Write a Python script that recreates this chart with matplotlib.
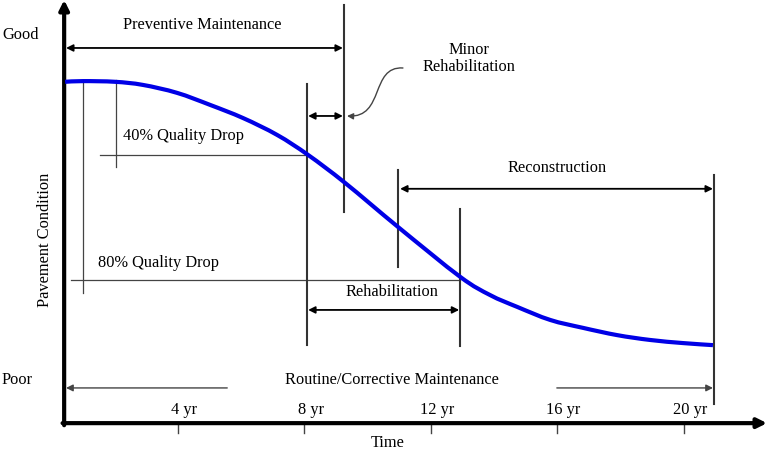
import numpy as np
import matplotlib.pyplot as plt
from matplotlib.path import Path
from matplotlib.patches import FancyArrowPatch, PathPatch

plt.rcParams['font.family'] = ['Liberation Serif', 'DejaVu Serif']

# deterioration curve: years vs condition (Good = 100, Poor = 0)
curve_yr = [0.43, 1.00, 2.01, 2.89, 3.97, 5.02, 6.06, 7.14, 8.12, 9.29,
            10.97, 12.93, 13.88, 14.73, 15.78, 16.82, 17.90, 18.94, 19.98, 20.93]
curve_cond = [86.4, 86.6, 86.4, 85.5, 83.2, 79.7, 75.9, 71.0, 65.2, 57.1,
              44.3, 29.9, 24.6, 21.2, 17.4, 15.1, 13.0, 11.6, 10.7, 10.1]

tick_years = [4, 8, 12, 16, 20]
tick_labels = ['4 yr', '8 yr', '12 yr', '16 yr', '20 yr']

# vertical guide lines: (year, cond top, cond bottom)
thin_vlines = [(1.00, 87.0, 25.2), (2.04, 87.0, 61.7)]
thick_vlines = [(8.09, 85.8, 10.1), (9.26, 108.7, 48.7), (10.97, 60.9, 32.8),
                (12.93, 49.6, 9.9), (20.96, 59.4, -7.0)]
# horizontal quality-drop lines: (year start, year end, cond)
drop_lines = [(1.53, 8.09, 65.2), (0.62, 12.93, 29.0)]

# double arrows: (year start, year end, cond, label, label year, label cond)
spans = [
    (0.46, 9.22, 96.2, 'Preventive Maintenance', 4.76, 102.9),
    (8.12, 9.22, 76.5, '', 0, 0),
    (11.03, 20.93, 55.4, 'Reconstruction', 16.0, 61.4),
    (8.12, 12.90, 20.3, 'Rehabilitation', 10.77, 25.5),
]

axis_yr, axis_cond = 0.40, -12.5


def smooth_path(xs, ys):
    # Catmull-Rom through the points, drawn as cubic Bezier segments
    pts = np.column_stack([xs, ys])
    n = len(pts)
    verts = [pts[0]]
    codes = [Path.MOVETO]
    for i in range(n - 1):
        p0 = pts[max(i - 1, 0)]
        p1 = pts[i]
        p2 = pts[i + 1]
        p3 = pts[min(i + 2, n - 1)]
        verts += [p1 + (p2 - p0) / 6, p2 - (p3 - p1) / 6, p2]
        codes += [Path.CURVE4] * 3
    return Path(verts, codes)


fig = plt.figure(figsize=(7.67, 4.58), dpi=100)
ax = fig.add_axes([0, 0, 1, 1])
ax.set_xlim(-1.63, 22.64)
ax.set_ylim(-22.6, 110.1)
ax.axis('off')

fs = 11.8

# guide lines
for x, y0, y1 in thin_vlines:
    ax.plot([x, x], [y0, y1], color='#444444', lw=0.9)
for x0, x1, y in drop_lines:
    ax.plot([x0, x1], [y, y], color='#444444', lw=0.9)
for x, y0, y1 in thick_vlines:
    ax.plot([x, x], [y0, y1], color='#333333', lw=1.5)

# curve
ax.add_patch(PathPatch(smooth_path(curve_yr, curve_cond), fill=False,
                       edgecolor='#0000e6', lw=3, capstyle='butt', zorder=5))

# span arrows
for x0, x1, y, label, lx, ly in spans:
    ax.annotate('', xy=(x1, y), xytext=(x0, y),
                arrowprops=dict(arrowstyle='<|-|>', color='black', lw=1.3,
                                shrinkA=0, shrinkB=0, mutation_scale=10))
    if label:
        ax.text(lx, ly, label, ha='center', va='center', fontsize=fs)

# routine / corrective maintenance
ax.text(10.77, 0.0, 'Routine/Corrective Maintenance', ha='center', va='center', fontsize=fs)
ax.annotate('', xy=(0.46, -2.3), xytext=(5.56, -2.3),
            arrowprops=dict(arrowstyle='-|>', color='#444444', lw=1.0,
                            shrinkA=0, shrinkB=0, mutation_scale=10))
ax.annotate('', xy=(20.93, -2.3), xytext=(15.99, -2.3),
            arrowprops=dict(arrowstyle='-|>', color='#444444', lw=1.0,
                            shrinkA=0, shrinkB=0, mutation_scale=10))

# minor rehabilitation callout
ax.text(13.21, 93.2, 'Minor\nRehabilitation', ha='center', va='center',
        fontsize=fs, linespacing=1.05)
squiggle = Path([(11.12, 90.4), (10.08, 91.0), (10.55, 75.9), (9.35, 76.5)],
                [Path.MOVETO, Path.CURVE4, Path.CURVE4, Path.CURVE4])
ax.add_patch(FancyArrowPatch(path=squiggle, arrowstyle='-|>', color='#444444',
                             lw=1.0, mutation_scale=9))

# quality drop labels
ax.text(4.17, 70.7, '40% Quality Drop', ha='center', va='center', fontsize=fs)
ax.text(3.37, 33.9, '80% Quality Drop', ha='center', va='center', fontsize=fs)

# axes with arrows
ax.annotate('', xy=(axis_yr, 110.1), xytext=(axis_yr, axis_cond - 0.6),
            annotation_clip=False,
            arrowprops=dict(arrowstyle='-|>', color='black', lw=3,
                            shrinkA=0, shrinkB=0, mutation_scale=14))
ax.annotate('', xy=(22.64, axis_cond), xytext=(axis_yr - 0.05, axis_cond),
            annotation_clip=False,
            arrowprops=dict(arrowstyle='-|>', color='black', lw=3,
                            shrinkA=0, shrinkB=0, mutation_scale=14))

# x ticks
for yr, lab in zip(tick_years, tick_labels):
    ax.plot([yr, yr], [axis_cond, axis_cond - 3.0], color='#444444', lw=1.0)
    ax.text(yr + 0.2, -8.6, lab, ha='center', va='center', fontsize=fs)

ax.text(10.65, -18.2, 'Time', ha='center', va='center', fontsize=fs)
ax.text(-0.21, 40.6, 'Pavement Condition', ha='center', va='center',
        rotation=90, fontsize=fs)
ax.text(-1.57, 100, 'Good', ha='left', va='center', fontsize=fs)
ax.text(-1.57, 0, 'Poor', ha='left', va='center', fontsize=fs)

fig.savefig('out.png', dpi=100)
